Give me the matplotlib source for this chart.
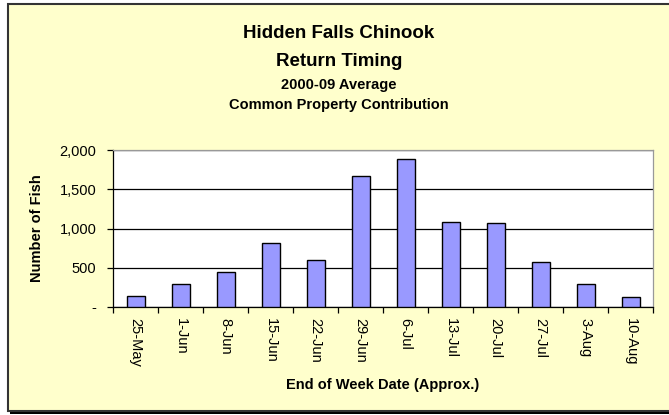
import matplotlib.pyplot as plt
import matplotlib.ticker as ticker
from matplotlib.patches import Rectangle
import numpy as np

plt.rcParams["font.family"] = ["Liberation Sans", "DejaVu Sans"]

weeks = ["25-May", "1-Jun", "8-Jun", "15-Jun", "22-Jun", "29-Jun",
         "6-Jul", "13-Jul", "20-Jul", "27-Jul", "3-Aug", "10-Aug"]
fish = [140, 293, 442, 811, 594, 1673, 1890, 1087, 1070, 569, 293, 131]
yticks = [0, 500, 1000, 1500, 2000]

W, H = 669, 415
fig = plt.figure(figsize=(W / 100, H / 100), dpi=100)
fig.patch.set_facecolor("white")

# chart area: yellow panel with dark border and a drop shadow along the bottom
fig.patches.append(Rectangle((10 / W, 1 / H), 1.0, 3 / H, transform=fig.transFigure,
                             facecolor="black", edgecolor="none", zorder=-2))
fig.patches.append(Rectangle((7.5 / W, 4 / H), 1.0, 407 / H, transform=fig.transFigure,
                             facecolor="#FFFFCC", edgecolor="#333333", linewidth=1.5,
                             zorder=-1))

ax = fig.add_axes([113 / W, 1 - 307 / H, 540 / W, 157 / H])
ax.set_facecolor("white")
ax.set_zorder(1)

x = np.arange(len(weeks))
ax.bar(x, fish, width=0.4, color="#9999FF", edgecolor="black", linewidth=1.0, zorder=3)

ax.set_xlim(-0.5, len(weeks) - 0.5)
ax.set_ylim(0, 2000)
ax.set_yticks(yticks)
ax.yaxis.set_major_formatter(ticker.FuncFormatter(
    lambda v, _: "-" if v == 0 else f"{int(v):,}"))
ax.grid(axis="y", color="black", linewidth=0.9, zorder=1)

ax.set_xticks(x)
ax.set_xticklabels(weeks, rotation=-90, va="top", ha="center", fontsize=10.5)
ax.set_xticks(np.arange(-0.5, len(weeks)), minor=True)
ax.tick_params(axis="x", which="major", length=0, pad=8)
ax.tick_params(axis="x", which="minor", length=4, direction="out", width=0.9)
ax.tick_params(axis="y", length=4, direction="out", labelsize=10.5, width=0.9, pad=8)

for side in ["top", "right"]:
    ax.spines[side].set_color("#999999")
    ax.spines[side].set_linewidth(0.9)
for side in ["left", "bottom"]:
    ax.spines[side].set_color("black")
    ax.spines[side].set_linewidth(0.9)

ax.set_ylabel("Number of Fish", fontsize=10.5, fontweight="bold", labelpad=11)
ax.set_xlabel("End of Week Date (Approx.)", fontsize=10.5, fontweight="bold", labelpad=8)

cx = 339 / W
fig.text(cx, 1 - 34 / H, "Hidden Falls Chinook", ha="center", va="center",
         fontsize=13.5, fontweight="bold")
fig.text(cx, 1 - 61 / H, "Return Timing", ha="center", va="center",
         fontsize=13.5, fontweight="bold")
fig.text(cx, 1 - 85 / H, "2000-09 Average", ha="center", va="center",
         fontsize=10.5, fontweight="bold")
fig.text(cx, 1 - 105 / H, "Common Property Contribution", ha="center", va="center",
         fontsize=10.5, fontweight="bold")

fig.savefig("out.png", dpi=100, facecolor=fig.get_facecolor())
